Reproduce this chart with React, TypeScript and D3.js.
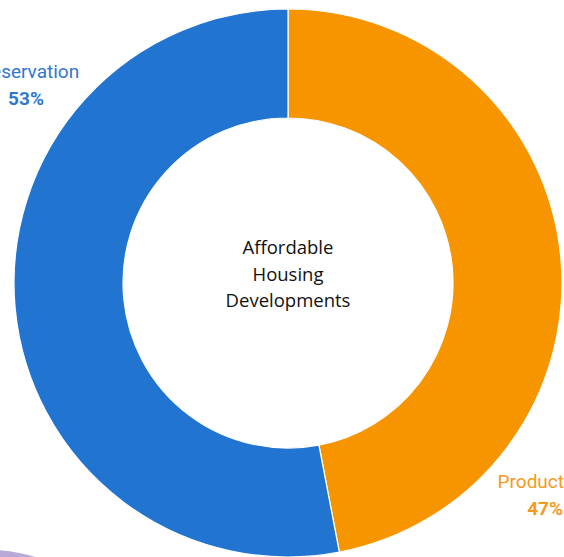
import * as React from 'react';
import * as d3 from 'd3';

const categories = ['Product', 'Preservation'];
const shares = [47, 53];
const sliceColors = ['#F79500', '#2175D1'];
const labelColors = ['#F59A1E', '#2F78CC'];
const centerLines = ['Affordable', 'Housing', 'Developments'];

const W = 564;
const H = 557;

const App: React.FC = () => {
    const cx = 288;
    const cy = 283;
    const outer = 274;
    const inner = 165;

    const pie = d3.pie<number>().sort(null).value(d => d);
    const arcs = pie(shares);
    const arc = d3.arc<d3.PieArcDatum<number>>().innerRadius(inner).outerRadius(outer);

    // labels were placed by hand in the original, offsets from chart center
    const labelPos = [
        { x: 276, y: 205, anchor: 'end', pctDx: -1 },
        { x: -262, y: -205, anchor: 'middle', pctDx: 0 },
    ];

    return (
        <svg width={W} height={H} style={{ position: 'absolute', left: 0, top: 0, background: '#fff' }}>
            <circle cx={-10} cy={700} r={150} fill='#B9A9D8' />
            <g transform={`translate(${cx},${cy})`}>
                {arcs.map((a, i) => (
                    <path key={i} d={arc(a) || ''} fill={sliceColors[i]} stroke='#fff' strokeWidth={1.2} />
                ))}
                {centerLines.map((t, i) => (
                    <text key={t} x={0} y={(i - 1) * 26.5 - 7} textAnchor='middle' dominantBaseline='middle'
                        fontFamily='"Open Sans", Lato, sans-serif' fontSize={18.5} fill='#111'>
                        {t}
                    </text>
                ))}
                {categories.map((c, i) => (
                    <g key={c} transform={`translate(${labelPos[i].x},${labelPos[i].y})`}
                        fontFamily='Roboto, sans-serif' fill={labelColors[i]} textAnchor={labelPos[i].anchor}>
                        <text x={0} y={0} fontSize={19}>{c}</text>
                        <text x={labelPos[i].pctDx} y={27} fontSize={19} fontWeight='bold'>
                            {d3.format('d')(arcs[i].data)}%
                        </text>
                    </g>
                ))}
            </g>
        </svg>
    );
};

export default App;
